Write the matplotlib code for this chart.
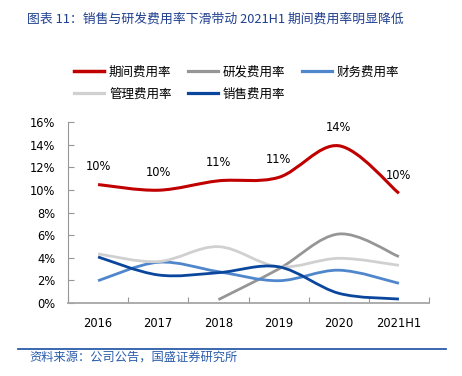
import matplotlib
matplotlib.use("Agg")
import matplotlib.pyplot as plt
import numpy as np
from matplotlib.path import Path
from matplotlib.patches import PathPatch
from matplotlib.lines import Line2D

plt.rcParams['font.family'] = ['Noto Sans CJK SC', 'DejaVu Sans']

categories = ["2016", "2017", "2018", "2019", "2020", "2021H1"]
period_rate = [10.47, 9.97, 10.8, 11.1, 13.9, 9.7]
rd_rate = [np.nan, np.nan, 0.3, 3.0, 6.1, 4.1]
finance_rate = [1.97, 3.6, 2.77, 1.97, 2.9, 1.74]
admin_rate = [4.34, 3.66, 4.98, 3.2, 3.95, 3.33]
sales_rate = [4.07, 2.48, 2.68, 3.2, 0.86, 0.35]
period_labels = ["10%", "10%", "11%", "11%", "14%", "10%"]
yticks = [0, 2, 4, 6, 8, 10, 12, 14, 16]

series = [
    ("期间费用率", period_rate, "#C00000", 2.2),
    ("研发费用率", rd_rate, "#969696", 2.0),
    ("财务费用率", finance_rate, "#4F86CC", 2.0),
    ("管理费用率", admin_rate, "#D0D0D0", 2.0),
    ("销售费用率", sales_rate, "#0A469C", 2.0),
]

fig = plt.figure(figsize=(4.62, 3.76), dpi=100)
ax = fig.add_axes([68/462, 1-303/376, (429-68)/462, (303-122)/376])


def smooth_path(xs, ys):
    pts = np.array([(x, y) for x, y in zip(xs, ys) if not np.isnan(y)], dtype=float)
    n = len(pts)
    verts = [tuple(pts[0])]
    codes = [Path.MOVETO]
    for i in range(n - 1):
        p0 = pts[i - 1] if i > 0 else pts[i]
        p1 = pts[i]
        p2 = pts[i + 1]
        p3 = pts[i + 2] if i + 2 < n else pts[i + 1]
        c1 = p1 + (p2 - p0) / 6.0
        c2 = p2 - (p3 - p1) / 6.0
        verts += [tuple(c1), tuple(c2), tuple(p2)]
        codes += [Path.CURVE4] * 3
    return Path(verts, codes)


xs = np.arange(len(categories))
handles = {}
for name, vals, color, lw in series:
    p = smooth_path(xs, vals)
    patch = PathPatch(p, facecolor="none", edgecolor=color, lw=lw,
                      capstyle="butt", joinstyle="round", zorder=3)
    ax.add_patch(patch)
    handles[name] = Line2D([], [], color=color, lw=lw + 0.3)

for x, v, lab in zip(xs, period_rate, period_labels):
    ax.annotate(lab, (x, v), xytext=(0, 13), textcoords="offset points",
                ha="center", va="center", fontsize=8.3, family="DejaVu Sans",
                color="#000000")

ax.set_xlim(-0.5, len(categories) - 0.5)
ax.set_ylim(0, 16)
ax.set_yticks(yticks)
ax.set_yticklabels([f"{t}%" for t in yticks], family="DejaVu Sans", fontsize=8.3)
ax.tick_params(axis="y", direction="in", length=4, color="#969696", pad=9)

ax.set_xticks(np.arange(-0.5, len(categories), 1.0))
ax.set_xticklabels([])
ax.set_xticks(xs, minor=True)
ax.set_xticklabels(categories, minor=True, family="DejaVu Sans", fontsize=8.3)
ax.tick_params(axis="x", which="major", direction="in", length=4, color="#969696")
ax.tick_params(axis="x", which="minor", length=0, pad=10)

for s in ["top", "right"]:
    ax.spines[s].set_visible(False)
ax.spines["left"].set_color("#969696")
ax.spines["left"].set_linewidth(0.8)
ax.spines["bottom"].set_color("#A6A6A6")
ax.spines["bottom"].set_linewidth(1.3)

order = ["期间费用率", "管理费用率", "研发费用率", "销售费用率", "财务费用率"]
leg = fig.legend([handles[k] for k in order], order, ncol=3,
                 loc="center left", bbox_to_anchor=(74/462, 1-83/376),
                 frameon=False, fontsize=9, handlelength=2.4,
                 handletextpad=0.4, columnspacing=1.3, labelspacing=0.75,
                 borderpad=0, borderaxespad=0)

fig.text(27/462, 1-19/376, "图表 11：销售与研发费用率下滑带动 2021H1 期间费用率明显降低",
         fontsize=9.25, color="#1F3F8F", style="italic", ha="left", va="center")

fig.add_artist(Line2D([18/462, 446/462], [1-349/376, 1-349/376],
                      transform=fig.transFigure, color="#2A5CAA", lw=1.3))
fig.text(29/462, 1-357/376, "资料来源：公司公告，国盛证券研究所",
         fontsize=8.8, color="#2A5CAA", style="italic", ha="left", va="center")

fig.savefig("out.png", dpi=100)
